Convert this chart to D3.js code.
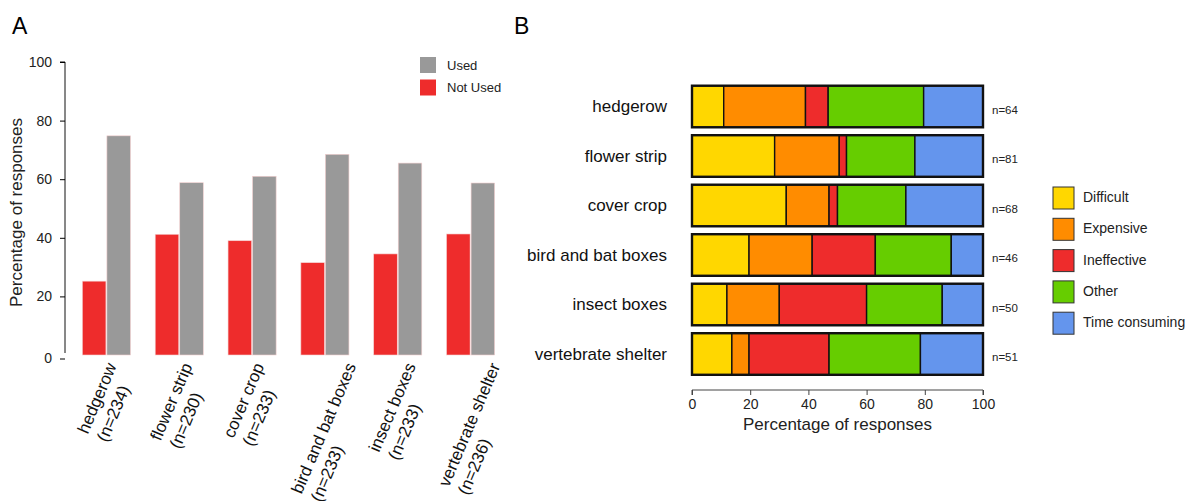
<!DOCTYPE html>
<html>
<head>
<meta charset="utf-8">
<script src="https://cdn.jsdelivr.net/npm/d3@7"></script>
<style>
  body { margin: 0; background: #fff; }
  svg { display: block; font-family: "Liberation Sans", Arial, sans-serif; }
</style>
</head>
<body>
<script>
const width = 1191;
const height = 501;

// panel A: use of practices
const practices = ["hedgerow", "flower strip", "cover crop", "bird and bat boxes", "insect boxes", "vertebrate shelter"];
const practiceN = ["(n=234)", "(n=230)", "(n=233)", "(n=233)", "(n=233)", "(n=236)"];
const notUsed = [25.2, 41.2, 39.0, 31.5, 34.5, 41.3];
const used = [74.8, 58.8, 61.0, 68.5, 65.5, 58.7];
const useGroups = ["Not Used", "Used"];

// panel B: reasons for not using
const reasons = ["Difficult", "Expensive", "Ineffective", "Other", "Time consuming"];
const difficult = [10.9, 28.4, 32.4, 19.6, 12.0, 13.7];
const expensive = [28.1, 22.2, 14.7, 21.7, 18.0, 5.9];
const ineffective = [7.8, 2.5, 2.9, 21.7, 30.0, 27.5];
const other = [32.8, 23.5, 23.5, 26.1, 26.0, 31.4];
const timeConsuming = [20.4, 23.4, 26.5, 10.9, 14.0, 21.5];
const reasonN = ["n=64", "n=81", "n=68", "n=46", "n=50", "n=51"];
const pctTicks = [0, 20, 40, 60, 80, 100];

const useColor = d3.scaleOrdinal().domain(useGroups).range(["#EE2C2C", "#999999"]);
const reasonColor = d3.scaleOrdinal().domain(reasons)
	.range(["#FFD700", "#FF8C00", "#EE2C2C", "#66CD00", "#6495ED"]);

const svg = d3.select("body")
	.append("svg")
	.attr("width", width)
	.attr("height", height);

// panel letters
svg.append("text").attr("x", 12).attr("y", 34).attr("font-size", 23).text("A");
svg.append("text").attr("x", 514).attr("y", 34).attr("font-size", 23).text("B");

// ---------- panel A ----------
const yA = d3.scaleLinear().domain([0, 100]).range([355, 62]);
const x0 = d3.scaleBand().domain(practices).range([70, 507]).paddingInner(0.34).paddingOuter(0.17);
const x1 = d3.scaleBand().domain(useGroups).range([0, x0.bandwidth()]).paddingInner(0.04);

const rowsA = practices.map((p, i) => ({ name: p, n: practiceN[i], values: { "Not Used": notUsed[i], "Used": used[i] } }));

const gA = svg.append("g");

gA.selectAll("g.grp")
	.data(rowsA)
	.enter()
	.append("g")
	.attr("class", "grp")
	.attr("transform", d => `translate(${x0(d.name)},0)`)
	.selectAll("rect")
	.data(d => useGroups.map(k => ({ key: k, value: d.values[k] })))
	.enter()
	.append("rect")
	.attr("x", d => x1(d.key))
	.attr("width", x1.bandwidth())
	.attr("y", d => yA(d.value))
	.attr("height", d => yA(0) - yA(d.value))
	.attr("fill", d => useColor(d.key))
	.style("stroke", "#f4d0d0")
	.style("stroke-width", 0.6);

const axA = gA.append("g")
	.attr("transform", "translate(65,0)")
	.call(d3.axisLeft(yA).tickValues(pctTicks).tickSize(5).tickPadding(8));
axA.select(".domain").attr("stroke", "#111").attr("d", `M-5,${yA(100)}H0V${yA(0) - 2}`);
axA.selectAll(".tick").filter(d => d === 0).attr("transform", `translate(0,${yA(0) + 4})`);
axA.selectAll("text").attr("font-size", 14).attr("fill", "#222").attr("font-family", null);

gA.append("text")
	.attr("transform", `translate(22,${(yA(0) + yA(100)) / 2 + 4}) rotate(-90)`)
	.attr("text-anchor", "middle")
	.attr("font-size", 17)
	.attr("fill", "#222")
	.text("Percentage of responses");

// rotated two line category labels
const ang = 67 * Math.PI / 180;
const lineGap = 21;
rowsA.forEach(d => {
	const g = gA.append("g");
	const t1 = g.append("text").attr("font-size", 17).attr("fill", "#111").text(d.name);
	const t2 = g.append("text").attr("font-size", 17).attr("fill", "#111").attr("y", lineGap).text(d.n);
	const L1 = t1.node().getComputedTextLength();
	const L2 = t2.node().getComputedTextLength();
	const right = Math.max(L1 * Math.cos(ang), L2 * Math.cos(ang) + lineGap * Math.sin(ang) + 3);
	const gx = x0(d.name) + x0.bandwidth() / 2;
	const ox = gx - right / 2 + 4;
	const oy = 366 + L1 * Math.sin(ang);
	g.attr("transform", `translate(${ox},${oy}) rotate(-67)`);
});

// legend A
const legA = gA.append("g").attr("transform", "translate(420,57)");
["Used", "Not Used"].forEach((k, i) => {
	legA.append("rect").attr("x", 0).attr("y", i * 22.5).attr("width", 16).attr("height", 16)
		.attr("fill", useColor(k));
	legA.append("text").attr("x", 27).attr("y", i * 22.5 + 8).attr("dy", "0.35em")
		.attr("font-size", 13).attr("fill", "#222").text(k);
});

// ---------- panel B ----------
const xB = d3.scaleLinear().domain([0, 100]).range([692, 983]);
const yB = d3.scaleBand().domain(practices).range([81.75, 378.75]).paddingInner(0.16).paddingOuter(0.08);

const tableB = practices.map((p, i) => ({
	name: p,
	"Difficult": difficult[i],
	"Expensive": expensive[i],
	"Ineffective": ineffective[i],
	"Other": other[i],
	"Time consuming": timeConsuming[i]
}));
const stacked = d3.stack().keys(reasons)(tableB);

const gB = svg.append("g");

gB.selectAll("g.layer")
	.data(stacked)
	.enter()
	.append("g")
	.attr("class", "layer")
	.attr("fill", d => reasonColor(d.key))
	.selectAll("rect")
	.data(d => d)
	.enter()
	.append("rect")
	.attr("x", d => xB(d[0]))
	.attr("width", d => xB(d[1]) - xB(d[0]))
	.attr("y", d => yB(d.data.name))
	.attr("height", yB.bandwidth())
	.style("stroke", "#111")
	.style("stroke-width", 1.4);

// outer frames
gB.selectAll("rect.frame")
	.data(practices)
	.enter()
	.append("rect")
	.attr("class", "frame")
	.attr("x", xB(0))
	.attr("width", xB(100) - xB(0))
	.attr("y", d => yB(d))
	.attr("height", yB.bandwidth())
	.attr("fill", "none")
	.style("stroke", "#111")
	.style("stroke-width", 2.4);

// category labels
gB.selectAll("text.cat")
	.data(practices)
	.enter()
	.append("text")
	.attr("class", "cat")
	.attr("x", 667)
	.attr("y", d => yB(d) + yB.bandwidth() / 2)
	.attr("dy", "0.35em")
	.attr("text-anchor", "end")
	.attr("font-size", 17)
	.attr("fill", "#111")
	.text(d => d);

// n labels
gB.selectAll("text.n")
	.data(practices)
	.enter()
	.append("text")
	.attr("class", "n")
	.attr("x", 992)
	.attr("y", (d, i) => yB(d) + yB.bandwidth() / 2 + 3)
	.attr("dy", "0.35em")
	.attr("font-size", 11.5)
	.attr("fill", "#222")
	.text((d, i) => reasonN[i]);

const axB = gB.append("g")
	.attr("transform", "translate(0,390)")
	.call(d3.axisBottom(xB).tickValues(pctTicks).tickSize(5).tickPadding(4));
axB.select(".domain").attr("stroke", "#444").attr("d", `M${xB(0)},5V0H${xB(100)}V5`);
axB.selectAll(".tick line").attr("stroke", "#444");
axB.selectAll("text").attr("font-size", 14).attr("fill", "#222").attr("font-family", null);

gB.append("text")
	.attr("x", (xB(0) + xB(100)) / 2)
	.attr("y", 430)
	.attr("text-anchor", "middle")
	.attr("font-size", 17)
	.attr("fill", "#222")
	.text("Percentage of responses");

// legend B
const legB = gB.append("g").attr("transform", "translate(1053,187)");
reasons.forEach((k, i) => {
	legB.append("rect").attr("x", 0).attr("y", i * 31.3).attr("width", 21).attr("height", 22)
		.attr("fill", reasonColor(k)).style("stroke", "#333").style("stroke-width", 1);
	legB.append("text").attr("x", 30).attr("y", i * 31.3 + 10).attr("dy", "0.35em")
		.attr("font-size", 14).attr("fill", "#222").text(k);
});
</script>
</body>
</html>
